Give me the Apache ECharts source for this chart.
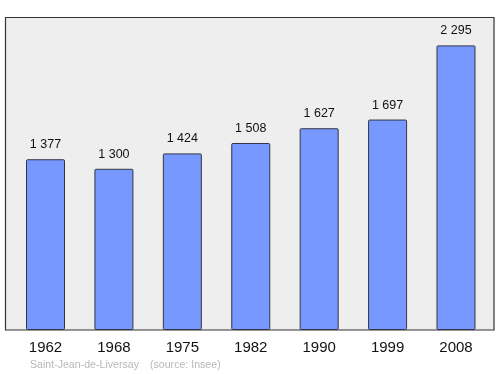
<!DOCTYPE html>
<html><head><meta charset="utf-8">
<script src="https://cdn.jsdelivr.net/npm/echarts@6/dist/echarts.min.js"></script>
<style>html,body{margin:0;padding:0;background:#fff}#c{width:500px;height:374px}</style>
</head><body><div id="c"></div>
<script>
const years = ['1962','1968','1975','1982','1990','1999','2008'];
const population = [1377, 1300, 1424, 1508, 1627, 1697, 2295];
const labels = ['1 377','1 300','1 424','1 508','1 627','1 697','2 295'];
const place = 'Saint-Jean-de-Liversay';
const source = '(source: Insee)';

const chart = echarts.init(document.getElementById('c'), null, {renderer:'canvas'});
chart.setOption({
  animation:false,
  backgroundColor:'#ffffff',
  graphic:[
    {type:'rect', z:-10, shape:{x:5.5,y:17.5,width:488.5,height:312.5}, style:{fill:'#eeeeee', stroke:'#333333', lineWidth:1.2}},
    {type:'text', left:30, top:360, style:{text:place, fill:'#b8b8b8', font:'10.6px "Liberation Sans", Arial, sans-serif'}},
    {type:'text', left:150, top:360, style:{text:source, fill:'#b8b8b8', font:'10.6px "Liberation Sans", Arial, sans-serif'}}
  ],
  grid:{left:11.3, right:9.8, top:17.5, bottom:44},
  xAxis:{type:'category', data:years,
    axisLine:{show:false}, axisTick:{show:false},
    axisLabel:{color:'#111', fontSize:15, fontFamily:'"Liberation Sans", Arial, sans-serif', margin:10}},
  yAxis:{type:'value', min:0, max:2520, show:false, splitLine:{show:false}},
  series:[{type:'bar', data:population, barWidth:39,
    itemStyle:{color:'#7799ff', borderColor:'#333344', borderWidth:1, borderRadius:1},
    label:{show:true, position:'top', distance:8, color:'#111', fontSize:12.5,
      fontFamily:'"Liberation Sans", Arial, sans-serif',
      formatter:p=>labels[p.dataIndex]}}]
});
</script></body></html>
